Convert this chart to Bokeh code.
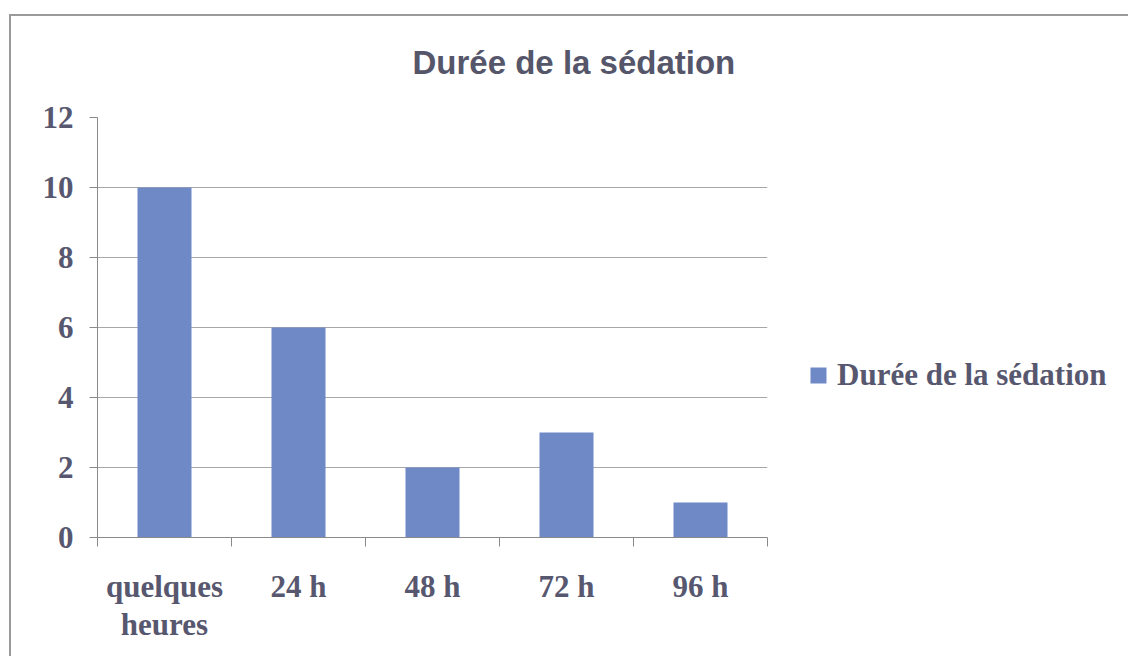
from bokeh.plotting import figure
from bokeh.models import (Range1d, FixedTicker, Legend, LegendItem,
                          ColumnDataSource, InlineStyleSheet)
from bokeh.embed import file_html
from bokeh.resources import INLINE

categories = ["quelques\nheures", "24 h", "48 h", "72 h", "96 h"]
values = [10, 6, 2, 3, 1]
y_ticks = [0, 2, 4, 6, 8, 10, 12]
series_name = "Durée de la sédation"
title_text = "Durée de la sédation"

TXT = "#57586f"
GRID = "#a8a8a8"
BAR = "#6f88c6"

n = len(categories)
centers = [i + 0.5 for i in range(n)]
bounds = [float(i) for i in range(n + 1)]

p = figure(frame_width=670, frame_height=420, output_backend="svg",
           toolbar_location=None,
           x_range=Range1d(0, n), y_range=Range1d(0, 12),
           min_border_left=97, min_border_right=0,
           min_border_top=117, min_border_bottom=119)
p.outline_line_color = None
p.background_fill_color = "white"
p.border_fill_color = "white"

src = ColumnDataSource(dict(x=centers, top=values))
r = p.vbar(x="x", top="top", width=0.403, source=src,
           fill_color=BAR, line_color=None)

# title
p.title.text = title_text
p.title.align = "left"
p.title.offset = 315
p.title.standoff = 74
p.title.text_font = "Liberation Sans"
p.title.text_font_style = "bold"
p.title.text_font_size = "33px"
p.title.text_color = "#55566a"

# x axis
p.xaxis.ticker = FixedTicker(ticks=centers, minor_ticks=bounds)
p.xaxis.major_label_overrides = {c: lab for c, lab in zip(centers, categories)}
p.xaxis.major_tick_out = 0
p.xaxis.major_tick_in = 0
p.xaxis.minor_tick_out = 9
p.xaxis.minor_tick_in = 0
p.xaxis.minor_tick_line_color = "#8a8a8a"
p.xaxis.axis_line_color = "#8a8a8a"
p.xaxis.major_label_standoff = 22
p.xaxis.major_label_text_font = "Liberation Serif"
p.xaxis.major_label_text_font_style = "bold"
p.xaxis.major_label_text_font_size = "31px"
p.xaxis.major_label_text_color = TXT
p.xaxis.major_label_text_line_height = 1.1

# y axis
p.yaxis.ticker = FixedTicker(ticks=y_ticks, minor_ticks=[])
p.yaxis.major_tick_out = 8
p.yaxis.major_tick_in = 0
p.yaxis.major_tick_line_color = "#8a8a8a"
p.yaxis.axis_line_color = "#8a8a8a"
p.yaxis.major_label_standoff = 16
p.yaxis.major_label_text_font = "Liberation Serif"
p.yaxis.major_label_text_font_style = "bold"
p.yaxis.major_label_text_font_size = "31px"
p.yaxis.major_label_text_color = TXT

p.xgrid.grid_line_color = None
p.ygrid.ticker = FixedTicker(ticks=y_ticks)
p.ygrid.grid_line_color = GRID
p.ygrid.grid_line_width = 1

# legend
leg = Legend(items=[LegendItem(label=series_name, renderers=[r])],
             location=(41, 144), glyph_width=20, glyph_height=20,
             label_standoff=9, padding=0, margin=0, spacing=0,
             border_line_color=None, background_fill_alpha=0,
             label_text_font="Liberation Serif", label_text_font_style="bold",
             label_text_font_size="31px", label_text_color=TXT)
p.add_layout(leg, "right")

# outer border (top and left edges of the chart box)
p.stylesheets = [InlineStyleSheet(css="""
:host::after {
  content: '';
  position: absolute;
  left: 9px; top: 14px; right: 0; bottom: 0;
  border-left: 2px solid #9a9a9a;
  border-top: 2px solid #9a9a9a;
  pointer-events: none;
}
""")]

open("out.html", "w").write(file_html(p, INLINE))
